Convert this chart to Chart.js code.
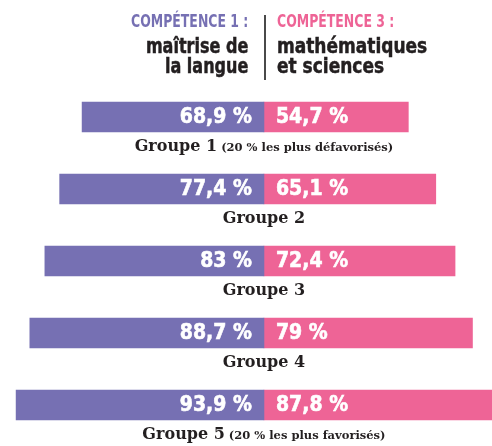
<!DOCTYPE html>
<html>
<head>
<meta charset="utf-8">
<script src="https://cdn.jsdelivr.net/npm/chart.js@4/dist/chart.umd.min.js"></script>
<style>
  body { margin: 0; background: #fff; }
  #wrap { position: relative; width: 492px; height: 446px; }
  canvas { position: absolute; left: 0; top: 0; }
  .head { position: absolute; top: 11px; font-family: "DejaVu Sans Condensed", sans-serif; font-weight: bold; color: #231f20; white-space: nowrap; }
  .head .cap { font-size: 18px; line-height: 20px; transform: scaleX(0.77); }
  .head .sub { font-size: 22px; line-height: 20px; margin-top: 5px; transform: scaleX(0.81); -webkit-text-stroke: 0.5px #231f20; }
  #left { right: 244px; text-align: right; }
  #left div { transform-origin: right center; }
  #left .cap { color: #7670b3; }
  #right { left: 277px; text-align: left; }
  #right div { transform-origin: left center; }
  #right .cap { color: #ee6496; }
  #right .sub { transform: scaleX(0.86); }
  #sep { position: absolute; left: 264px; top: 15px; width: 2px; height: 65px; background: #4a4a4a; }
</style>
</head>
<body>
<div id="wrap">
  <canvas id="chart" width="492" height="446"></canvas>
  <div class="head" id="left"><div class="cap">COMPÉTENCE 1 :</div><div class="sub">maîtrise de<br>la langue</div></div>
  <div id="sep"></div>
  <div class="head" id="right"><div class="cap">COMPÉTENCE 3 :</div><div class="sub">mathématiques<br>et sciences</div></div>
</div>
<script>
var groupes = ['Groupe 1', 'Groupe 2', 'Groupe 3', 'Groupe 4', 'Groupe 5'];
var precisions = ['(20 % les plus défavorisés)', '', '', '', '(20 % les plus favorisés)'];
var competence1 = [68.9, 77.4, 83, 88.7, 93.9];
var competence3 = [54.7, 65.1, 72.4, 79, 87.8];

var violet = '#7670b3';
var rose = '#ee6496';

function fmt(v) {
  return String(v).replace('.', ',') + ' %';
}

// textes des barres et des groupes
var etiquettes = {
  id: 'etiquettes',
  afterDatasetsDraw: function(chart) {
    var ctx = chart.ctx;
    var x0 = chart.scales.x.getPixelForValue(0);
    var yScale = chart.scales.y;
    ctx.save();
    for (var i = 0; i < groupes.length; i++) {
      var y = yScale.getPixelForValue(i);
      ctx.fillStyle = '#fff';
      ctx.strokeStyle = '#fff';
      ctx.lineWidth = 0.6;
      ctx.font = 'bold 21px "DejaVu Sans Condensed", sans-serif';
      ctx.textBaseline = 'middle';
      ctx.textAlign = 'right';
      ctx.fillText(fmt(competence1[i]), x0 - 12, y + 1);
      ctx.strokeText(fmt(competence1[i]), x0 - 12, y + 1);
      ctx.textAlign = 'left';
      ctx.fillText(fmt(competence3[i]), x0 + 12, y + 1);
      ctx.strokeText(fmt(competence3[i]), x0 + 12, y + 1);

      // groupe sous la barre
      var f1 = 'bold 16px "DejaVu Serif", serif';
      var f2 = 'bold 11.5px "DejaVu Serif", serif';
      ctx.font = f1;
      var w1 = ctx.measureText(groupes[i]).width;
      var w2 = 0;
      if (precisions[i]) {
        ctx.font = f2;
        w2 = ctx.measureText(' ' + precisions[i]).width;
      }
      var start = x0 - (w1 + w2) / 2;
      ctx.fillStyle = '#231f20';
      ctx.textAlign = 'left';
      ctx.textBaseline = 'alphabetic';
      ctx.font = f1;
      ctx.fillText(groupes[i], start, y + 34);
      if (precisions[i]) {
        ctx.font = f2;
        ctx.fillText(' ' + precisions[i], start + w1, y + 34);
      }
    }
    ctx.restore();
  }
};

new Chart(document.getElementById('chart'), {
  type: 'bar',
  data: {
    labels: groupes,
    datasets: [
      {
        label: 'Compétence 1',
        data: competence1.map(function(v) { return -v; }),
        backgroundColor: violet,
        barThickness: 30
      },
      {
        label: 'Compétence 3',
        data: competence3,
        backgroundColor: rose,
        barThickness: 30
      }
    ]
  },
  options: {
    indexAxis: 'y',
    responsive: false,
    animation: false,
    layout: { padding: { top: 81, bottom: 5, left: 0, right: 0 } },
    scales: {
      x: { stacked: true, min: -100, max: 86.4, display: false },
      y: { stacked: true, display: false }
    },
    plugins: {
      legend: { display: false },
      tooltip: { enabled: false }
    }
  },
  plugins: [etiquettes]
});
</script>
</body>
</html>
